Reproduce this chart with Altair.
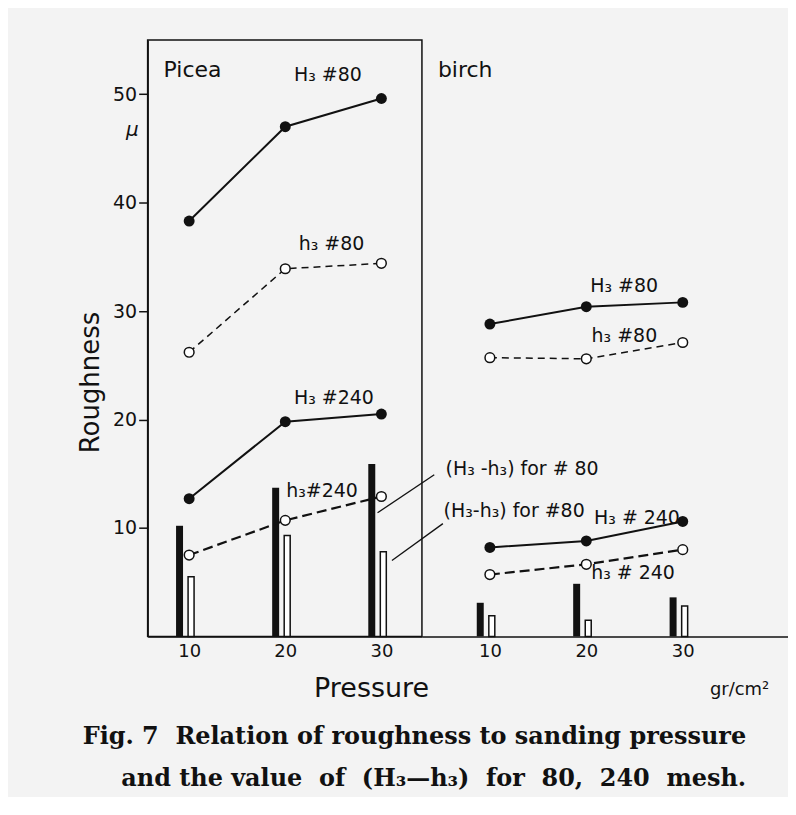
import altair as alt
import pandas as pd

pressure = [10, 20, 30]

picea_H80 = [38.3, 47.0, 49.6]
picea_h80 = [26.2, 33.9, 34.4]
picea_H240 = [12.7, 19.8, 20.5]
picea_h240 = [7.5, 10.7, 12.9]
picea_bar80 = [10.2, 13.7, 15.9]
picea_bar240 = [5.5, 9.3, 7.8]

birch_H80 = [28.8, 30.4, 30.8]
birch_h80 = [25.7, 25.6, 27.1]
birch_H240 = [8.2, 8.8, 10.6]
birch_h240 = [5.7, 6.65, 8.0]
birch_bar80 = [3.1, 4.85, 3.6]
birch_bar240 = [1.9, 1.5, 2.8]

# annotation labels (data units of each panel)
picea_lab_text = ["H₃ #80", "h₃ #80", "H₃ #240", "h₃#240"]
picea_lab_x = [20.9, 21.4, 20.9, 20.1]
picea_lab_y = [51.8, 36.2, 22.0, 13.4]

birch_lab_text = ["H₃ #80", "h₃ #80", "H₃ # 240", "h₃ # 240",
                  "(H₃ -h₃) for # 80", "(H₃-h₃) for #80"]
birch_lab_x = [20.4, 20.55, 20.8, 20.5, 5.4, 5.2]
birch_lab_y = [32.3, 27.7, 10.9, 5.8, 15.4, 11.6]

# leader lines from the (H3-h3) labels to the picea bars
leader_x = [35.5, 36.4]
leader_y = [14.9, 10.4]
leader_x2 = [29.6, 31.1]
leader_y2 = [11.4, 7.0]

NB = "\u00a0"
caption = ["Fig. 7" + NB + " Relation of roughness to sanding pressure",
           "and the value" + NB + " of" + NB + " (H₃—h₃)" + NB +
           " for" + NB + " 80," + NB + " 240" + NB + " mesh."]

FONT = "DejaVu Sans"
YDOM = [0, 55]
H = 598


def series_df(H80, h80, H240, h240):
    rows = []
    for name, vals, kind in [("H80", H80, "H"), ("h80", h80, "h"),
                             ("H240", H240, "H"), ("h240", h240, "h")]:
        for p, v in zip(pressure, vals):
            rows.append({"series": name, "kind": kind, "pressure": p, "value": v})
    return pd.DataFrame(rows)


def bars_df(b80, b240):
    rows = []
    for name, vals in [("m80", b80), ("m240", b240)]:
        for p, v in zip(pressure, vals):
            rows.append({"mesh": name, "pressure": p, "value": v})
    return pd.DataFrame(rows)


def build_panel(H80, h80, H240, h240, b80, b240, xdom, width, labs, panel_name,
                left):
    sdf = series_df(H80, h80, H240, h240)
    bdf = bars_df(b80, b240)
    xs = alt.Scale(domain=xdom, nice=False, zero=False)
    ys = alt.Scale(domain=YDOM, nice=False, zero=False)
    if left:
        xaxis = alt.Axis(values=pressure, ticks=False, labelFontSize=18,
                         labelFont=FONT, labelColor="#111", labelPadding=6,
                         domainColor="#111", domainWidth=1.5, grid=False,
                         title="Pressure", titleFont=FONT, titleFontSize=27,
                         titleFontWeight="normal", titleColor="#111",
                         titleX=224, titleY=60, titleBaseline="alphabetic")
        yaxis = alt.Axis(values=[10, 20, 30, 40, 50], tickSize=9,
                         tickColor="#111", tickWidth=1.5, labelFontSize=19,
                         labelFont=FONT, labelColor="#111", labelPadding=2,
                         domainColor="#111", domainWidth=1.5, grid=False,
                         title="Roughness", titleFont=FONT, titleFontSize=26,
                         titleFontWeight="normal", titleColor="#111",
                         titleX=-44, titleY=343)
    else:
        xaxis = alt.Axis(values=pressure, ticks=False, labelFontSize=18,
                         labelFont=FONT, labelColor="#111", labelPadding=6,
                         domainColor="#111", domainWidth=1.5, grid=False,
                         title="gr/cm²", titleFont=FONT, titleFontSize=18,
                         titleFontWeight="normal", titleColor="#111",
                         titleX=318, titleY=58, titleBaseline="alphabetic")
        yaxis = None

    base = alt.Chart(sdf)
    x = alt.X("pressure:Q", scale=xs, axis=xaxis)
    y = alt.Y("value:Q", scale=ys, axis=yaxis)

    bar80 = alt.Chart(bdf).transform_filter(alt.datum.mesh == "m80").transform_calculate(
        xb="datum.pressure - 1.0").mark_bar(width=7, color="#111").encode(
        x=alt.X("xb:Q", scale=xs, axis=xaxis), y=y, y2=alt.datum(0))
    bar240 = alt.Chart(bdf).transform_filter(alt.datum.mesh == "m240").transform_calculate(
        xb="datum.pressure + 0.2").mark_bar(width=6, color="white", stroke="#111",
                                            strokeWidth=1.5).encode(
        x=alt.X("xb:Q", scale=xs, axis=xaxis), y=y, y2=alt.datum(0))

    solid = base.transform_filter(alt.datum.kind == "H").mark_line(
        color="#111", strokeWidth=2).encode(x=x, y=y, detail="series:N")
    dashed80 = base.transform_filter(alt.datum.series == "h80").mark_line(
        color="#111", strokeWidth=1.5, strokeDash=[7, 5]).encode(x=x, y=y)
    dashed240 = base.transform_filter(alt.datum.series == "h240").mark_line(
        color="#111", strokeWidth=2.2, strokeDash=[10, 5]).encode(x=x, y=y)
    filled = base.transform_filter(alt.datum.kind == "H").mark_point(
        filled=True, color="#111", size=120, opacity=1).encode(x=x, y=y)
    opened = base.transform_filter(alt.datum.kind == "h").mark_point(
        filled=True, fill="white", stroke="#111", strokeWidth=1.5, size=95,
        opacity=1).encode(x=x, y=y)

    ldf = pd.DataFrame({"t": labs[0], "x": labs[1], "y": labs[2]})
    labels = alt.Chart(ldf).mark_text(align="left", baseline="middle", font=FONT,
                                      fontSize=19, color="#111").encode(
        x=alt.X("x:Q", scale=xs), y=alt.Y("y:Q", scale=ys), text="t:N")

    pname = alt.Chart(pd.DataFrame({"t": [panel_name]})).mark_text(
        align="left", baseline="middle", font=FONT, fontSize=22,
        color="#111").encode(x=alt.value(16), y=alt.value(30), text="t:N")

    layers = [bar80, bar240, solid, dashed80, dashed240, filled, opened, labels,
              pname]

    if left:
        rdf = pd.DataFrame({"x": leader_x, "y": leader_y, "x2": leader_x2,
                            "y2": leader_y2})
        rules = alt.Chart(rdf).mark_rule(color="#111", strokeWidth=1.3).encode(
            x=alt.X("x:Q", scale=xs), y=alt.Y("y:Q", scale=ys),
            x2="x2:Q", y2="y2:Q")
        mu = alt.Chart(pd.DataFrame({"t": ["μ"], "x": [4.1], "y": [46.7]})).mark_text(
            font=FONT, fontSize=20, fontStyle="italic", color="#111").encode(
            x=alt.X("x:Q", scale=xs), y=alt.Y("y:Q", scale=ys), text="t:N")
        layers += [rules, mu]

    view = alt.ViewBackground(stroke="#111", strokeWidth=1.5) if left else \
        alt.ViewBackground(stroke=None)
    return alt.layer(*layers).properties(width=width, height=H, view=view)


left = build_panel(picea_H80, picea_h80, picea_H240, picea_h240, picea_bar80,
                   picea_bar240, [6.2, 33.7], 275,
                   (picea_lab_text, picea_lab_x, picea_lab_y), "Picea", True)
right = build_panel(birch_H80, birch_h80, birch_H240, birch_h240, birch_bar80,
                    birch_bar240, [3.47, 40.4], 367,
                    (birch_lab_text, birch_lab_x, birch_lab_y), "birch", False)

chart = alt.hconcat(left, right, spacing=0, bounds="flush").properties(
    title=alt.TitleParams(
        text=caption,
        orient="bottom", anchor="end", align="right", dx=-42, offset=23,
        font="DejaVu Serif", fontSize=24, fontWeight="bold", color="#111",
        lineHeight=42),
    padding={"left": 69, "top": 30, "right": 0, "bottom": 5},
    background="#f3f3f3",
).configure_view(strokeWidth=0).configure_axis(grid=False)

chart.save("out.html", embed_options={"renderer": "svg", "actions": False})
